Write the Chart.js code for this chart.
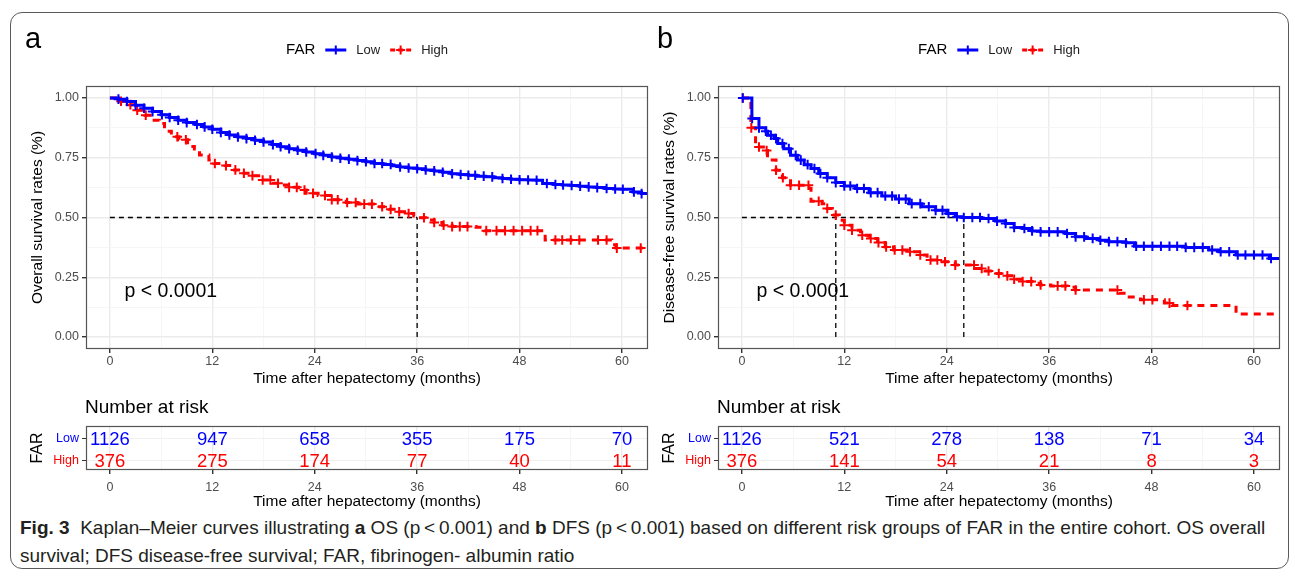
<!DOCTYPE html>
<html>
<head>
<meta charset="utf-8">
<script src="https://cdn.jsdelivr.net/npm/chart.js@4.4.0/dist/chart.umd.min.js"></script>
<style>
  body { margin: 0; background: #fff; width: 1295px; height: 578px; overflow: hidden; position: relative; }
  #frame { position: absolute; left: 10px; top: 12px; width: 1277px; height: 555px; border: 1.5px solid #5a5a5a; border-radius: 12px; }
  canvas { position: absolute; }
  #caption { position: absolute; left: 20px; top: 514px; width: 1265px; font-family: "Liberation Sans Narrow", "Liberation Sans", Arial, sans-serif; font-size: 19px; line-height: 28px; color: #231f20; white-space: nowrap; }
  #caption b { font-weight: bold; }
</style>
</head>
<body>
<div id="frame"></div>
<canvas id="kmA" width="650" height="395" style="left:0;top:0"></canvas>
<canvas id="kmB" width="650" height="395" style="left:632px;top:0"></canvas>
<canvas id="riskA" width="650" height="122" style="left:0;top:390px"></canvas>
<canvas id="riskB" width="650" height="122" style="left:632px;top:390px"></canvas>
<div id="caption"><b>Fig. 3</b>&nbsp; Kaplan–Meier curves illustrating <b>a</b> OS (p&thinsp;&lt;&thinsp;0.001) and <b>b</b> DFS (p&thinsp;&lt;&thinsp;0.001) based on different risk groups of FAR in the entire cohort. OS overall<br>survival; DFS disease-free survival; FAR, fibrinogen- albumin ratio</div>

<script>
// ---- data ----
var xBreaks = [0, 12, 24, 36, 48, 60];
var yBreaks = [0, 0.25, 0.5, 0.75, 1];
var groups = ['Low', 'High'];

// a: overall survival
var aLowTimes = [0,1,2,3,4,5,6,7,8,9,10,11,12,13,14,15,16,17,18,19,20,21,22,23,24,25,26,27,28,29,30,31,32,33,34,35,36,37,38,39,40,41,42,43,44,45,46,47,48,49,50,50.7,52,53,54,55,56,57,58,59,60,61.3,62.3,63.1];
var aLowSurv = [1,0.995,0.985,0.97,0.957,0.943,0.93,0.918,0.907,0.897,0.889,0.879,0.869,0.856,0.845,0.837,0.83,0.823,0.816,0.805,0.796,0.788,0.781,0.774,0.767,0.76,0.753,0.748,0.744,0.738,0.733,0.726,0.722,0.716,0.711,0.707,0.704,0.699,0.695,0.689,0.683,0.68,0.677,0.673,0.67,0.666,0.663,0.66,0.658,0.657,0.656,0.642,0.638,0.636,0.634,0.631,0.628,0.625,0.621,0.619,0.618,0.607,0.6,0.6];
var aLowCens = [1.0,2.0,3.0,4.0,5.0,6.1,7.0,8.0,9.0,10.2,11.1,12.0,13.0,14.0,15.0,16.0,17.0,18.0,19.1,20.0,21.0,22.0,23.0,24.1,25.0,26.0,27.0,28.0,29.0,30.0,31.0,31.9,32.9,34.0,35.0,36.0,37.0,38.0,39.0,40.1,41.1,42.0,42.8,43.8,44.8,46.0,47.0,48.0,49.0,50.0,51.2,52.2,53.1,54.1,55.1,56.1,57.1,58.2,59.2,60.1,61.4,62.3];

var aHighTimes = [0,1.2,2.3,3.1,4.1,5.0,5.8,6.4,7.2,8.1,9.1,9.9,10.5,11.6,12.2,13.5,14.3,15.5,16.6,17.8,19.0,19.9,20.9,22.1,23.0,24.4,25.9,27.7,29.0,31.2,32.7,33.9,34.8,35.6,36.2,37.0,38.0,39.0,40.1,42.9,43.9,51.0,58.8,59.3,62.7];
var aHighSurv = [1,0.986,0.972,0.949,0.928,0.907,0.893,0.861,0.838,0.825,0.797,0.786,0.761,0.74,0.726,0.717,0.699,0.685,0.675,0.657,0.643,0.636,0.626,0.615,0.601,0.592,0.574,0.563,0.556,0.545,0.534,0.524,0.517,0.506,0.499,0.49,0.479,0.468,0.462,0.459,0.445,0.406,0.386,0.372,0.372];
var aHighCens = [1.3,2.4,3.2,4.2,7.9,8.9,12.3,13.6,14.7,15.7,16.7,17.9,18.8,19.7,21.0,21.9,22.8,23.8,25.2,26.0,26.7,27.8,28.8,29.8,30.7,31.9,32.9,33.9,35.0,36.8,38.0,39.1,40.1,41.0,41.9,44.1,45.3,46.3,47.3,48.3,49.3,50.1,52.2,53.0,54.0,55.0,57.2,58.2,59.4,62.2];

// b: disease-free survival
var bLowTimes = [0,1.17,2.0,2.8,3.0,3.8,4.2,4.9,5.7,6.5,7.3,8.1,9.0,10.0,11.0,12.0,13.3,14.9,16.4,18.0,19.6,21.1,22.7,24.0,25.0,25.8,28.1,29.7,30.9,31.9,32.9,34.0,35.0,37.9,39.1,40.3,41.9,43.0,45.0,46.0,52.0,54.7,55.9,57.9,61.8,63.1];
var bLowSurv = [1,0.914,0.875,0.861,0.844,0.83,0.809,0.788,0.76,0.74,0.721,0.705,0.684,0.666,0.646,0.632,0.621,0.604,0.59,0.577,0.558,0.545,0.53,0.517,0.503,0.5,0.496,0.485,0.475,0.458,0.454,0.444,0.44,0.433,0.419,0.4125,0.405,0.399,0.394,0.38,0.375,0.364,0.357,0.343,0.329,0.329];
var bLowCens = [0.1,1.2,2.0,2.8,3.4,4.0,4.75,5.5,6.3,6.9,7.7,8.5,9.2,10.0,11.0,12.0,12.7,13.5,14.3,15.1,15.9,16.8,17.6,18.4,19.2,19.9,20.9,21.9,22.7,23.5,24.2,25.2,26.0,27.0,27.9,28.9,29.9,30.9,31.9,33.1,34.0,35.0,36.0,37.0,38.1,39.1,40.1,41.1,42.0,43.0,44.0,45.0,46.2,47.1,48.1,49.1,50.1,51.0,52.0,53.0,54.0,55.1,56.1,57.1,58.1,59.0,60.0,61.0,62.0];

var bHighTimes = [0,1.05,1.6,2.8,3.0,4.0,4.75,5.7,7.9,8.1,9.4,10.0,10.6,11.4,12.0,12.9,13.9,14.9,15.9,16.8,17.8,19.6,20.7,21.7,23.5,25.0,27.4,28.5,29.7,30.9,31.9,32.9,34.0,35.0,36.2,38.1,39.1,44.2,45.0,46.7,49.5,50.4,57.9,63.1];
var bHighSurv = [1,0.875,0.795,0.78,0.74,0.698,0.666,0.635,0.621,0.568,0.558,0.538,0.51,0.489,0.468,0.447,0.426,0.412,0.395,0.377,0.364,0.357,0.343,0.322,0.315,0.301,0.287,0.276,0.266,0.256,0.242,0.232,0.225,0.218,0.214,0.208,0.197,0.183,0.167,0.156,0.142,0.132,0.096,0.096];
var bHighCens = [0.1,1.1,2.0,2.9,4.0,4.8,5.7,6.7,7.8,9.0,10.0,11.0,12.0,12.9,14.1,15.1,16.0,16.9,17.9,18.8,19.7,20.9,22.1,22.9,23.8,25.0,27.2,28.1,28.9,30.1,31.1,31.9,32.9,33.9,35.0,37.0,37.9,39.1,44.0,47.1,48.1,50.1,52.2];

// medians (dashed reference lines)
var aMedians = [36.0];
var bMedians = [11.0, 26.0];

// number at risk
var riskTimes = [0, 12, 24, 36, 48, 60];
var aRiskLow = [1126, 947, 658, 355, 175, 70];
var aRiskHigh = [376, 275, 174, 77, 40, 11];
var bRiskLow = [1126, 521, 278, 138, 71, 34];
var bRiskHigh = [376, 141, 54, 21, 8, 3];

// ---- drawing ----
var BLUE = '#0000ff';
var RED = '#ff0000';
var FONT = '"Liberation Sans", Arial, sans-serif';
Chart.defaults.font.family = FONT;
Chart.defaults.animation = false;

var X_MIN = -2.8, X_MAX = 63.05;

function survAt(times, surv, t){
  var v = surv[0];
  for (var i = 0; i < times.length; i++) {
    if (times[i] <= t) v = surv[i];
  }
  return v;
}

function isMajor(list, v){
  return list.some(function(b){ return Math.abs(b - v) < 1e-6; });
}

function gridTicks(breaks){
  var out = [];
  for (var i = 0; i < breaks.length; i++) {
    out.push(breaks[i]);
    if (i < breaks.length - 1) out.push((breaks[i] + breaks[i + 1]) / 2);
  }
  return out;
}

function xScale(height, labelPad, titlePad){
  return {
    type: 'linear', min: X_MIN, max: X_MAX,
    afterBuildTicks: function(s){ s.ticks = gridTicks(xBreaks).map(function(v){ return {value: v}; }); },
    afterFit: function(s){ s.height = height; s.paddingLeft = 0; s.paddingRight = 0; },
    border: {display: false},
    grid: {
      color: function(c){ return isMajor(xBreaks, c.tick.value) ? '#ebebeb' : '#f4f4f4'; },
      lineWidth: function(c){ return isMajor(xBreaks, c.tick.value) ? 1.4 : 0.8; },
      tickColor: function(c){ return isMajor(xBreaks, c.tick.value) ? '#333' : 'rgba(0,0,0,0)'; },
      tickLength: 4
    },
    ticks: {
      color: '#4d4d4d', font: {size: 12.5}, padding: labelPad, maxRotation: 0, autoSkip: false,
      callback: function(v){ return isMajor(xBreaks, v) ? v : ''; }
    },
    title: {display: true, text: 'Time after hepatectomy (months)', color: '#000', font: {size: 15.5}, padding: {top: 0, bottom: titlePad}}
  };
}

function kmChart(id, letter, yTitle, low, high, medians){
  var decor = {
    id: 'decor',
    afterDraw: function(chart){
      var ctx = chart.ctx, a = chart.chartArea;
      var xs = chart.scales.x, ys = chart.scales.y;
      ctx.save();
      // panel border
      ctx.strokeStyle = '#555';
      ctx.lineWidth = 1.2;
      ctx.strokeRect(a.left + 0.5, a.top + 0.5, a.right - a.left - 1, a.bottom - a.top - 1);
      // panel letter
      ctx.fillStyle = '#000';
      ctx.font = '29px ' + FONT;
      ctx.textBaseline = 'middle';
      ctx.textAlign = 'left';
      ctx.fillText(letter, 25, 40);
      // p value
      ctx.font = '19.5px ' + FONT;
      ctx.fillText('p < 0.0001', xs.getPixelForValue(1.7), ys.getPixelForValue(0.19));
      // legend
      var cx = (a.left + a.right) / 2, ly = 50;
      ctx.font = '15px ' + FONT;
      var wFar = ctx.measureText('FAR').width;
      ctx.font = '13px ' + FONT;
      var wLow = ctx.measureText(groups[0]).width, wHigh = ctx.measureText(groups[1]).width;
      var key = 21, gap = 10;
      var total = wFar + gap + key + gap + wLow + gap + key + gap + wHigh;
      var x = cx - total / 2;
      ctx.font = '15px ' + FONT;
      ctx.fillText('FAR', x, ly);
      x += wFar + gap;
      var keys = [[BLUE, [], wLow, groups[0]], [RED, [5, 3], wHigh, groups[1]]];
      keys.forEach(function(k){
        ctx.strokeStyle = k[0];
        ctx.lineWidth = 3;
        ctx.setLineDash(k[1]);
        ctx.beginPath(); ctx.moveTo(x, ly); ctx.lineTo(x + key, ly); ctx.stroke();
        ctx.setLineDash([]);
        ctx.lineWidth = 2;
        ctx.beginPath();
        ctx.moveTo(x + key / 2, ly - 4.5); ctx.lineTo(x + key / 2, ly + 4.5);
        ctx.moveTo(x + key / 2 - 4.5, ly); ctx.lineTo(x + key / 2 + 4.5, ly);
        ctx.stroke();
        x += key + gap;
        ctx.fillStyle = '#222';
        ctx.font = '13px ' + FONT;
        ctx.fillText(k[3], x, ly);
        x += k[2] + gap;
      });
      ctx.restore();
    }
  };

  var datasets = [];
  var curves = [[low, BLUE, []], [high, RED, [7, 6]]];
  curves.forEach(function(c){
    var d = c[0];
    datasets.push({
      type: 'line',
      data: d.times.map(function(t, i){ return {x: t, y: d.surv[i]}; }),
      stepped: 'before',
      borderColor: c[1], borderWidth: 3, borderDash: c[2],
      pointRadius: 0, fill: false
    });
    datasets.push({
      type: 'scatter',
      data: d.cens.map(function(t){ return {x: t, y: survAt(d.times, d.surv, t)}; }),
      pointStyle: 'cross', pointRadius: 4.8, borderWidth: 2,
      borderColor: c[1], backgroundColor: c[1]
    });
  });
  // median reference lines
  var maxMed = Math.max.apply(null, medians);
  datasets.push({
    type: 'line', data: [{x: 0, y: 0.5}, {x: maxMed, y: 0.5}],
    borderColor: '#000', borderWidth: 1.3, borderDash: [5, 4], pointRadius: 0
  });
  medians.forEach(function(m){
    datasets.push({
      type: 'line', data: [{x: m, y: 0}, {x: m, y: 0.5}],
      borderColor: '#000', borderWidth: 1.3, borderDash: [5, 4], pointRadius: 0
    });
  });

  return new Chart(document.getElementById(id), {
    type: 'line',
    data: {datasets: datasets},
    options: {
      responsive: false,
      layout: {autoPadding: false, padding: {top: 86, right: 2, left: 0, bottom: 0}},
      plugins: {legend: {display: false}, tooltip: {enabled: false}},
      scales: {
        x: xScale(46, 1, 7),
        y: {
          type: 'linear', min: -0.05, max: 1.05,
          afterBuildTicks: function(s){ s.ticks = gridTicks(yBreaks).map(function(v){ return {value: v}; }); },
          afterFit: function(s){ s.width = 86; s.paddingTop = 0; s.paddingBottom = 0; },
          border: {display: false},
          grid: {
            color: function(c){ return isMajor(yBreaks, c.tick.value) ? '#ebebeb' : '#f4f4f4'; },
            lineWidth: function(c){ return isMajor(yBreaks, c.tick.value) ? 1.4 : 0.8; },
            tickColor: function(c){ return isMajor(yBreaks, c.tick.value) ? '#333' : 'rgba(0,0,0,0)'; },
            tickLength: 4
          },
          ticks: {
            color: '#4d4d4d', font: {size: 12.5}, padding: 3, autoSkip: false,
            callback: function(v){ return isMajor(yBreaks, v) ? v.toFixed(2) : ''; }
          },
          title: {display: true, text: yTitle, color: '#000', font: {size: 15.5}, padding: {top: 28, bottom: 0}}
        }
      }
    },
    plugins: [decor]
  });
}

function riskChart(id, lowRisk, highRisk){
  var texts = {
    id: 'riskText',
    afterDraw: function(chart){
      var ctx = chart.ctx, a = chart.chartArea;
      ctx.save();
      ctx.strokeStyle = '#555';
      ctx.lineWidth = 1.2;
      ctx.strokeRect(a.left + 0.5, a.top + 0.5, a.right - a.left - 1, a.bottom - a.top - 1);
      ctx.textAlign = 'center';
      ctx.textBaseline = 'middle';
      ctx.font = '18.5px ' + FONT;
      chart.data.datasets.forEach(function(ds, di){
        var meta = chart.getDatasetMeta(di);
        ctx.fillStyle = ds.borderColor;
        meta.data.forEach(function(pt, i){
          ctx.fillText(String(ds.data[i].n), pt.x, pt.y + 1);
        });
      });
      ctx.fillStyle = '#000';
      ctx.textAlign = 'left';
      ctx.font = '19px ' + FONT;
      ctx.fillText('Number at risk', a.left - 1, 18);
      ctx.restore();
    }
  };

  return new Chart(document.getElementById(id), {
    type: 'scatter',
    data: {
      datasets: [
        {label: groups[0], data: riskTimes.map(function(t, i){ return {x: t, y: 1, n: lowRisk[i]}; }), borderColor: BLUE, pointRadius: 0},
        {label: groups[1], data: riskTimes.map(function(t, i){ return {x: t, y: 0, n: highRisk[i]}; }), borderColor: RED, pointRadius: 0}
      ]
    },
    options: {
      responsive: false,
      layout: {autoPadding: false, padding: {top: 36, right: 2, left: 0, bottom: 0}},
      plugins: {legend: {display: false}, tooltip: {enabled: false}},
      scales: {
        x: xScale(42, 6, 1),
        y: {
          type: 'linear', min: -0.41, max: 1.59,
          afterBuildTicks: function(s){ s.ticks = [{value: 0}, {value: 1}]; },
          afterFit: function(s){ s.width = 86; s.paddingTop = 0; s.paddingBottom = 0; },
          border: {display: false},
          grid: {color: '#f0f0f0', lineWidth: 1, tickColor: '#333', tickLength: 4},
          ticks: {
            font: {size: 12.5}, padding: 3,
            color: function(c){ return c.tick.value === 1 ? BLUE : RED; },
            callback: function(v){ return v === 1 ? groups[0] : groups[1]; }
          },
          title: {display: true, text: 'FAR', color: '#000', font: {size: 16}, padding: {top: 28, bottom: 0}}
        }
      }
    },
    plugins: [texts]
  });
}

kmChart('kmA', 'a', 'Overall survival rates (%)',
  {times: aLowTimes, surv: aLowSurv, cens: aLowCens},
  {times: aHighTimes, surv: aHighSurv, cens: aHighCens}, aMedians);
kmChart('kmB', 'b', 'Disease-free survival rates (%)',
  {times: bLowTimes, surv: bLowSurv, cens: bLowCens},
  {times: bHighTimes, surv: bHighSurv, cens: bHighCens}, bMedians);
riskChart('riskA', aRiskLow, aRiskHigh);
riskChart('riskB', bRiskLow, bRiskHigh);
</script>
</body>
</html>
